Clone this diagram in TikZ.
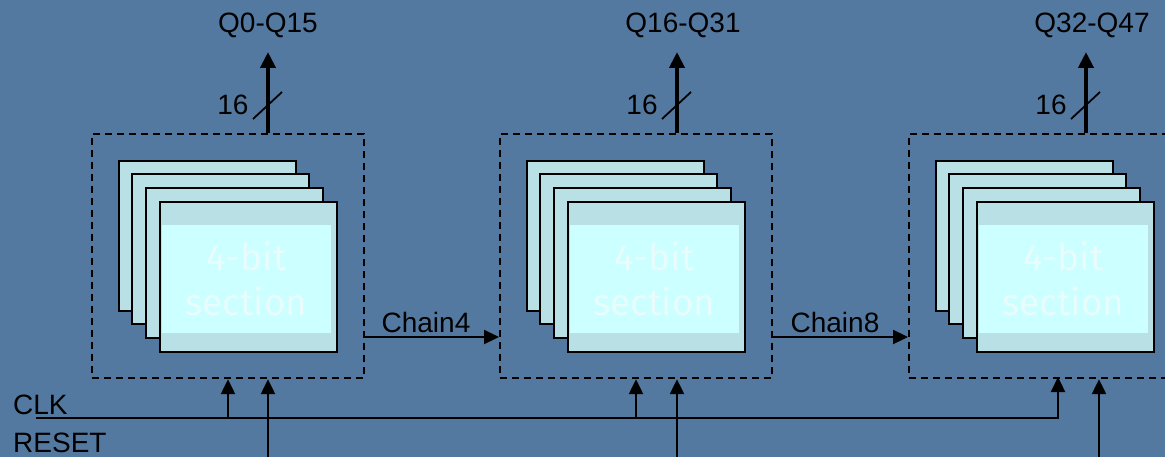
\documentclass[tikz,border=0pt]{standalone}
\usepackage{fontspec}
\setmainfont{Liberation Sans}
\newfontfamily\secfont{Fira Sans}
\usetikzlibrary{arrows.meta}
\definecolor{bg}{RGB}{84,121,161}
\definecolor{card}{RGB}{185,224,228}
\definecolor{cardin}{RGB}{204,255,255}
\definecolor{cardtxt}{RGB}{232,252,252}
\tikzset{
  blockbox/.style={draw=black, line width=2.2pt, dash pattern=on 7pt off 5pt, minimum width=272pt, minimum height=244pt, anchor=north west, inner sep=0pt},
  cardbox/.style={draw=black, fill=card, line width=2.2pt, minimum width=177pt, minimum height=150pt, anchor=north west, inner sep=0pt},
  innerbox/.style={fill=cardin, minimum width=169pt, minimum height=108pt, inner sep=0pt, text=cardtxt, font=\secfont\fontsize{37}{45}\selectfont, align=center},
  lbl/.style={font=\fontsize{28}{30}\selectfont, text=black, inner sep=0pt},
  conn/.style={draw=black, line width=2.3pt, -{Triangle[length=15pt,width=14pt]}},
  outarrow/.style={draw=black, line width=4.5pt, -{Triangle[length=16pt,width=15pt]}},
  slash/.style={draw=black, line width=1.8pt}
}
\begin{document}
\begin{tikzpicture}[x=1pt,y=-1pt]
\useasboundingbox (0,0) rectangle (1165,457);
\fill[bg] (0,0) rectangle (1165,457);
\clip (0,0) rectangle (1165,457);
\foreach \i/\dx/\q/\ox/\qx in {1/0/Q0-Q15/268/268, 2/408/Q16-Q31/677/683, 3/817/Q32-Q47/1086/1092}{
  \node[blockbox] (blk\i) at (91+\dx,133) {};
  \node[cardbox] (ca\i) at (118+\dx,160) {};
  \node[cardbox] (cb\i) at (131+\dx,173) {};
  \node[cardbox] (cc\i) at (145+\dx,187) {};
  \node[cardbox] (cd\i) at (159+\dx,201) {};
  \node[innerbox] (in\i) at (246.5+\dx,279) {4-bit\\section};
  \node[lbl] (q\i) at (\qx,25) {\q};
  \coordinate (tip\i) at (\ox,52);
  \draw[outarrow] (blk\i.north -| tip\i) -- (tip\i);
  \coordinate (sa\i) at (\ox-15,119);
  \coordinate (sb\i) at (\ox+14,92);
  \draw[slash] (sa\i) -- (sb\i);
  \node[lbl] (w\i) at (\ox-35,105) {16};
}
% chain connections
\coordinate (c4a) at (363,337);
\coordinate (c8a) at (772,337);
\draw[conn] (c4a) -- (blk2.west |- c4a);
\draw[conn] (c8a) -- (blk3.west |- c8a);
\node[lbl] (ch4) at (426,322) {Chain4};
\node[lbl] (ch8) at (835,322) {Chain8};
% clock and reset
\node[lbl, anchor=west] (clk) at (13,405) {CLK};
\node[lbl, anchor=west] (rst) at (13,443) {RESET};
\coordinate (clkstart) at (36,418);
\coordinate (k1) at (228,418);
\coordinate (k2) at (636,418);
\coordinate (k3) at (1058,377);
\draw[conn] (clkstart) -| (k3);
\draw[conn] (k1) -- (blk1.south -| k1);
\draw[conn] (k2) -- (blk2.south -| k2);
\coordinate (r1) at (268,462);
\coordinate (r2) at (677,462);
\coordinate (r3) at (1099,462);
\draw[conn] (r1) -- (blk1.south -| r1);
\draw[conn] (r2) -- (blk2.south -| r2);
\draw[conn] (r3) -- (blk3.south -| r3);
\end{tikzpicture}
\end{document}
